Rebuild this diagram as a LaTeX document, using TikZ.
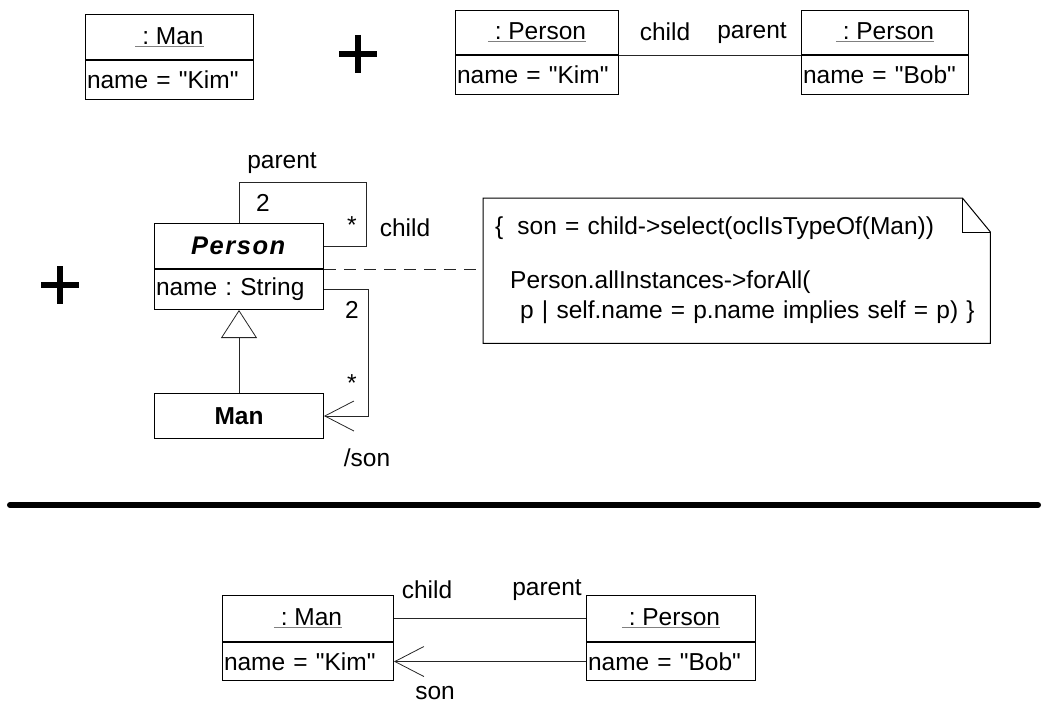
\documentclass[tikz,border=0pt]{standalone}
\usepackage{fontspec}
\setmainfont{Liberation Sans}[Ligatures=TeXOff]
\usetikzlibrary{positioning,arrows.meta,calc}

\tikzstyle{head}=[draw, line width=1pt, anchor=north west, inner sep=0pt, minimum height=45pt]
\tikzstyle{attr}=[draw, line width=1pt, anchor=north west, inner xsep=1.5pt, inner ysep=0pt, minimum height=39pt, align=left]
\tikzstyle{lbl}=[inner sep=0pt]
\tikzstyle{link}=[draw, line width=0.8pt, black!85]
\tikzstyle{navi}=[link, -{Straight Barb[length=29pt, width=30pt]}]
\tikzstyle{inherit}=[link, -{Triangle[open, length=28pt, width=36pt, fill=white]}]
\tikzstyle{plus}=[draw, line width=6pt]

\newcommand{\objname}[1]{{\color{gray}\underline{\color{black}~#1}}}

\begin{document}
\begin{tikzpicture}[x=1pt, y=-1pt, font=\fontsize{24.5}{30}\selectfont\frenchspacing]
\useasboundingbox (0,0) rectangle (1048,709);

\node (manobj) [head, minimum width=168pt] at (85,14) {\objname{: Man}};
\node (manobjattr) [attr, text width=165pt] at (manobj.south west) {name = "Kim"};

\draw [plus] (339,54) -- (377,54) (358,35) -- (358,73);

\node (kimobj) [head, minimum width=163pt, minimum height=44pt] at (455,10) {\objname{: Person}};
\node (kimobjattr) [attr, text width=160pt] at (kimobj.south west) {name = "Kim"};
\node (bobobj) [head, minimum width=167pt, minimum height=44pt] at (801,10) {\objname{: Person}};
\node (bobobjattr) [attr, text width=164pt] at (bobobj.south west) {name = "Bob"};
\draw [link] (kimobj.south east) -- (bobobj.south west);
\node (objchild) [lbl] at (665,32) {child};
\node (objparent) [lbl] at (752,33) {parent};

\draw [plus] (41,285) -- (79,285) (60,266) -- (60,304);

\node (personcls) [head, minimum width=169pt] at (154,223) {\fontsize{25.5}{30}\selectfont\addfontfeature{LetterSpace=6}\textbf{\textit{Person}}};
\node (personclsattr) [attr, text width=166pt, minimum height=40pt] at (personcls.south west) {name : String};
\node (mancls) [head, minimum width=169pt] at (154,393) {\textbf{Man}};

\draw [inherit] (mancls) -- (personclsattr);
\draw [link] (personcls.north) -- ++(0,-41) -| ([xshift=42pt]personcls.east) -- (personcls.east);
\draw [navi] (personclsattr.east) -- ++(44,0) |- (mancls.east);

\node (clsparent) [lbl] at (282,163) {parent};
\node (parentmult) [lbl] at (263,203) {2};
\node (childmult) [lbl] at (352,225) {*};
\node (clschild) [lbl] at (405,228) {child};
\node (sonfrommult) [lbl] at (352,310) {2};
\node (sonmult) [lbl] at (352,383) {*};
\node (clsson) [lbl] at (367,458) {/son};

\node (note) [anchor=north west, minimum width=507pt, minimum height=145pt, inner xsep=12pt, text width=483pt, align=left] at (483,198)
  {\{\hspace{14pt}son = child->select(oclIsTypeOf(Man))\\[24pt]
   \hspace{15pt}Person.allInstances->forAll(\\
   \hspace{25pt}p | self.name = p.name implies self = p) \}};
\draw [line width=1pt] (note.north west) -- ([xshift=-28pt]note.north east) -- ([yshift=-34pt]note.north east) -- (note.south east) -- (note.south west) -- cycle;
\draw [line width=1pt] ([xshift=-28pt]note.north east) |- ([yshift=-34pt]note.north east);
\draw [link, dash pattern=on 12pt off 8pt] (personcls.south east) -- (personcls.south east -| note.west);

\draw [line width=6pt, line cap=round] (10,505) -- (1038,505);

\node (kimman) [head, minimum width=171pt, minimum height=46pt] at (222,595) {\objname{: Man}};
\node (kimmanattr) [attr, text width=168pt, minimum height=38pt] at (kimman.south west) {name = "Kim"};
\node (bobperson) [head, minimum width=169pt, minimum height=46pt] at (586,595) {\objname{: Person}};
\node (bobpersonattr) [attr, text width=166pt, minimum height=38pt] at (bobperson.south west) {name = "Bob"};
\draw [link] (kimman.east) -- (bobperson.west);
\draw [navi] (bobpersonattr.west) -- (kimmanattr.east);
\node (linkchild) [lbl] at (427,590) {child};
\node (linkparent) [lbl] at (547,590) {parent};
\node (linkson) [lbl] at (435,693) {son};

\end{tikzpicture}
\end{document}
